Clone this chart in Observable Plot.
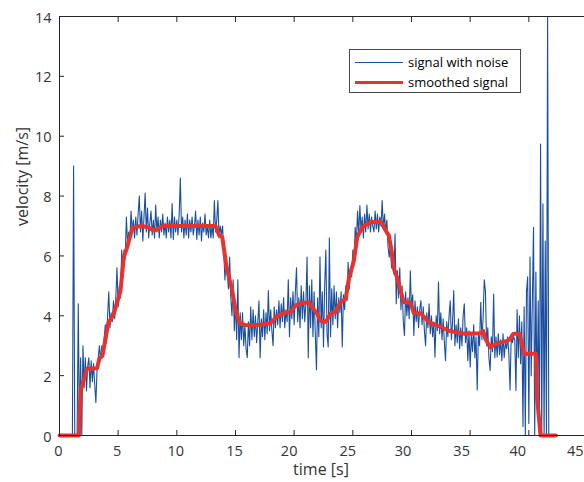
<!DOCTYPE html>
<html>
<head>
<meta charset="utf-8">
<script src="https://cdn.jsdelivr.net/npm/d3@7"></script>
<script src="https://cdn.jsdelivr.net/npm/@observablehq/plot@0.6"></script>
<style>
  html, body { margin: 0; padding: 0; background: #fff; overflow: hidden; }
  #wrap { position: relative; width: 584px; height: 482px; }
  #legend {
    position: absolute; left: 349px; top: 49px; width: 172px; height: 44px;
    box-sizing: border-box; border: 1px solid #4a4a4a; background: #fff;
    font-family: "Open Sans", sans-serif; font-size: 13px; color: #000;
  }
  #legend .row { position: absolute; left: 0; height: 18px; display: flex; align-items: center; white-space: nowrap; }
  #legend .sw { display: inline-block; width: 48px; margin-left: 5px; margin-right: 5px; }
</style>
</head>
<body>
<div id="wrap">
  <div id="chart"></div>
  <div id="legend">
    <div class="row" style="top:3px"><span class="sw" id="swBlue"></span><span id="lab0"></span></div>
    <div class="row" style="top:23px"><span class="sw" id="swRed"></span><span id="lab1"></span></div>
  </div>
</div>
<script>
// ---- data ----
const seriesNames = ["signal with noise", "smoothed signal"];
const xTicks = [0, 5, 10, 15, 20, 25, 30, 35, 40, 45];
const yTicks = [0, 2, 4, 6, 8, 10, 12, 14];
const xLabel = "time [s]";
const yLabel = "velocity [m/s]";

// noisy signal, sampled every 0.1 s starting at t = 0
const sampleStep = 0.1;
const noiseValues = [
  0,0,0,0,0,0,0,0,0,0,
  0,0,9.0,0,0,0,4.4,0,2.6,0,
  3.0,1.6,2.6,1.5,2.3,2.6,1.6,2.5,1.8,2.4,
  1.7,1.1,2.2,2.6,3.0,2.5,3.0,2.6,3.2,3.7,
  3.1,4.0,4.8,3.6,4.1,3.8,4.5,3.9,4.6,5.6,
  4.3,5.0,4.6,6.2,5.4,6.2,5.9,7.3,6.4,6.8,
  6.6,7.5,6.8,7.2,6.6,7.3,6.7,7.4,8.0,6.8,
  7.5,6.5,7.3,8.1,6.8,7.6,6.6,7.1,7.5,6.7,
  7.2,6.6,7.7,6.8,7.3,6.6,7.2,6.8,7.4,6.7,
  7.1,6.6,7.3,6.8,7.2,6.6,7.75,6.55,7.3,6.8,
  7.2,6.7,7.4,8.6,6.8,7.3,6.6,7.2,6.7,7.4,
  6.6,7.2,6.8,7.3,6.7,7.0,7.5,6.55,7.2,6.7,
  7.3,6.5,7.1,6.8,7.4,6.7,7.0,6.6,7.2,6.6,
  7.0,6.6,7.85,6.8,7.2,7.85,6.6,7.0,6.7,7.0,
  6.1,5.2,6.0,5.4,4.9,5.96,4.6,4.0,5.2,3.5,
  4.5,3.2,5.2,2.6,4.1,3.2,4.1,3.0,3.7,2.9,
  2.6,3.8,3.0,4.3,3.2,4.2,3.3,4.0,3.1,3.8,
  4.5,2.6,3.9,3.3,4.2,3.2,4.1,3.4,4.84,3.5,
  4.2,3.5,3.0,4.3,3.6,4.2,3.7,4.5,3.6,4.4,
  3.8,4.6,3.6,4.2,3.8,5.2,3.3,4.6,3.9,4.8,
  3.7,4.8,5.6,3.8,4.6,3.6,5.0,3.9,4.8,3.8,
  4.4,5.96,2.6,5.0,3.6,5.2,3.3,4.8,3.4,2.2,
  4.6,3.3,5.96,3.6,4.8,2.96,5.0,6.2,3.4,2.96,
  6.6,3.3,4.9,3.7,5.0,3.9,4.8,3.6,4.6,4.1,
  4.8,2.96,4.7,4.2,5.0,4.5,5.79,4.9,5.6,5.3,
  6.2,5.7,6.96,6.4,7.5,6.7,7.68,6.8,7.3,6.6,
  7.4,6.8,7.7,6.9,7.4,6.8,7.3,7.0,6.8,7.5,
  6.9,7.4,6.8,7.3,7.0,7.85,6.9,7.4,6.8,7.2,
  6.3,5.96,6.4,5.6,6.1,5.4,6.74,4.4,5.5,4.6,
  5.6,4.2,5.0,3.8,3.34,4.8,4.0,4.6,3.9,5.5,
  4.2,4.7,3.34,4.5,3.8,4.3,3.6,4.2,4.51,3.7,
  4.3,3.5,3.0,4.1,3.6,4.4,3.4,4.0,3.3,3.8,
  2.62,4.0,3.5,5.13,3.4,4.1,3.2,3.9,3.1,2.5,
  3.8,3.3,4.0,4.5,3.2,3.8,4.84,3.0,3.7,3.1,
  3.9,2.9,3.6,3.0,4.0,4.4,3.1,3.6,2.5,3.5,
  2.29,3.4,2.8,3.7,2.6,3.3,1.52,3.4,3.0,4.45,
  3.2,3.9,5.2,4.84,3.0,3.6,2.6,2.17,3.3,2.8,
  4.73,2.6,3.3,2.62,3.4,2.7,3.2,2.5,3.4,2.6,
  3.1,2.9,3.3,2.7,1.52,3.4,3.1,3.3,3.2,1.5,
  4.2,2.6,4.0,2.4,3.8,0.3,4.3,0,4.8,5.3,
  0.4,5.96,2.0,4.5,6.96,0,5.46,1.0,4.5,0,
  9.74,0,7.74,0,6.5,0,14.0,0,0,0,
  0,0,0,0
];

// smoothed signal (time, value)
const smoothT = [0,1.65,1.8,2.07,2.36,3.2,3.4,3.66,4.15,4.63,4.92,5.2,5.48,5.77,5.97,6.25,7.0,7.6,8.0,8.4,8.8,10,12,13.3,13.6,13.87,14.24,14.72,15.0,15.37,16,17,17.99,18.56,19.2,19.7,20.1,20.6,21.25,21.5,21.97,22.2,22.5,22.7,23.1,23.5,23.95,24.4,24.66,25.09,25.38,25.8,26.5,27.4,27.8,28.07,28.3,28.5,28.8,29.07,29.35,29.9,30.2,30.8,31.2,31.6,32.05,33.2,34.5,35.9,36.1,36.3,36.7,37.2,38.2,38.4,38.7,39.2,39.6,40.6,40.7,41.0,42.3];
const smoothV = [0,0,1.5,1.87,2.24,2.25,2.57,2.67,3.74,4.07,4.45,4.84,5.96,6.29,6.6,6.96,7.0,6.95,6.85,6.9,7.0,7.0,7.0,7.0,6.7,6.63,5.62,4.84,4.2,3.74,3.68,3.7,3.75,4.0,4.1,4.12,4.34,4.42,4.45,4.3,4.07,3.85,3.79,3.8,4.07,4.12,4.45,4.57,5.24,5.85,6.63,6.96,7.13,7.13,6.85,6.68,6.18,5.57,5.24,4.84,4.45,4.45,4.09,4.08,3.9,3.75,3.7,3.5,3.4,3.42,3.5,3.23,2.95,3.06,3.17,3.23,3.4,3.4,2.73,2.73,1.28,0,0];

// ---- styles ----
const blue = "#1b4f9e";
const red = "#e8322e";
const axisColor = "#262626";
const textColor = "#333";

const noisy = noiseValues.map((v, i) => ({t: Math.round(i * sampleStep * 10) / 10, v}));
const smooth = smoothT.map((t, i) => ({t, v: smoothV[i]}));

// tick label groups with a slight leftward drift, as in the reference rendering
const labelGroups = [
  {ticks: xTicks.slice(0, 4), dx: -1, anchor: "middle"},
  {ticks: xTicks.slice(4, 6), dx: -5, anchor: "middle"},
  {ticks: xTicks.slice(6, 8), dx: -8.5, anchor: "middle"},
  {ticks: xTicks.slice(8, 9), dx: -11, anchor: "middle"},
  {ticks: xTicks.slice(9), dx: -4, anchor: "end"}
];

const chart = Plot.plot({
  width: 584,
  height: 482,
  marginLeft: 59,
  marginTop: 16,
  marginBottom: 47,
  marginRight: 0,
  style: {fontFamily: "'Open Sans', sans-serif", fontSize: "14.5px", color: textColor, background: "#fff", overflow: "visible"},
  x: {domain: [0, 45], range: [59, 587]},
  y: {domain: [0, 14], range: [435, 16]},
  marks: [
    Plot.line(noisy, {x: "t", y: "v", stroke: blue, strokeWidth: 1.1}),
    Plot.line(smooth, {x: "t", y: "v", stroke: red, strokeWidth: 4, strokeLinejoin: "round"}),
    Plot.ruleY([0, 14], {stroke: axisColor, strokeWidth: 1}),
    Plot.ruleX([0], {stroke: axisColor, strokeWidth: 1}),
    Plot.axisX(xTicks, {anchor: "bottom", tickSize: -5, tickFormat: () => "", label: null, stroke: axisColor}),
    ...labelGroups.map(g => Plot.axisX(g.ticks, {anchor: "bottom", tickSize: 0, tickPadding: 10, label: null, dx: g.dx, textAnchor: g.anchor, fill: textColor})),
    Plot.axisX(xTicks, {anchor: "top", tickSize: -5, tickFormat: () => "", label: null, stroke: axisColor}),
    Plot.axisY(yTicks, {anchor: "left", tickSize: -5, tickFormat: () => "", label: null, stroke: axisColor}),
    Plot.axisY(yTicks, {anchor: "left", tickSize: 0, tickPadding: 8, label: null, dy: 1.5, fill: textColor}),
    Plot.text([xLabel], {text: d => d, frameAnchor: "bottom", dy: 39, dx: -1, fontSize: 16, fill: textColor}),
    Plot.text([yLabel], {text: d => d, frameAnchor: "left", dx: -37, rotate: -90, fontSize: 16, fill: textColor})
  ]
});
document.getElementById("chart").appendChild(chart);

// legend
document.getElementById("lab0").textContent = seriesNames[0];
document.getElementById("lab1").textContent = seriesNames[1];
document.getElementById("swBlue").style.borderTop = `1px solid ${blue}`;
document.getElementById("swRed").style.borderTop = `3px solid ${red}`;
</script>
</body>
</html>
